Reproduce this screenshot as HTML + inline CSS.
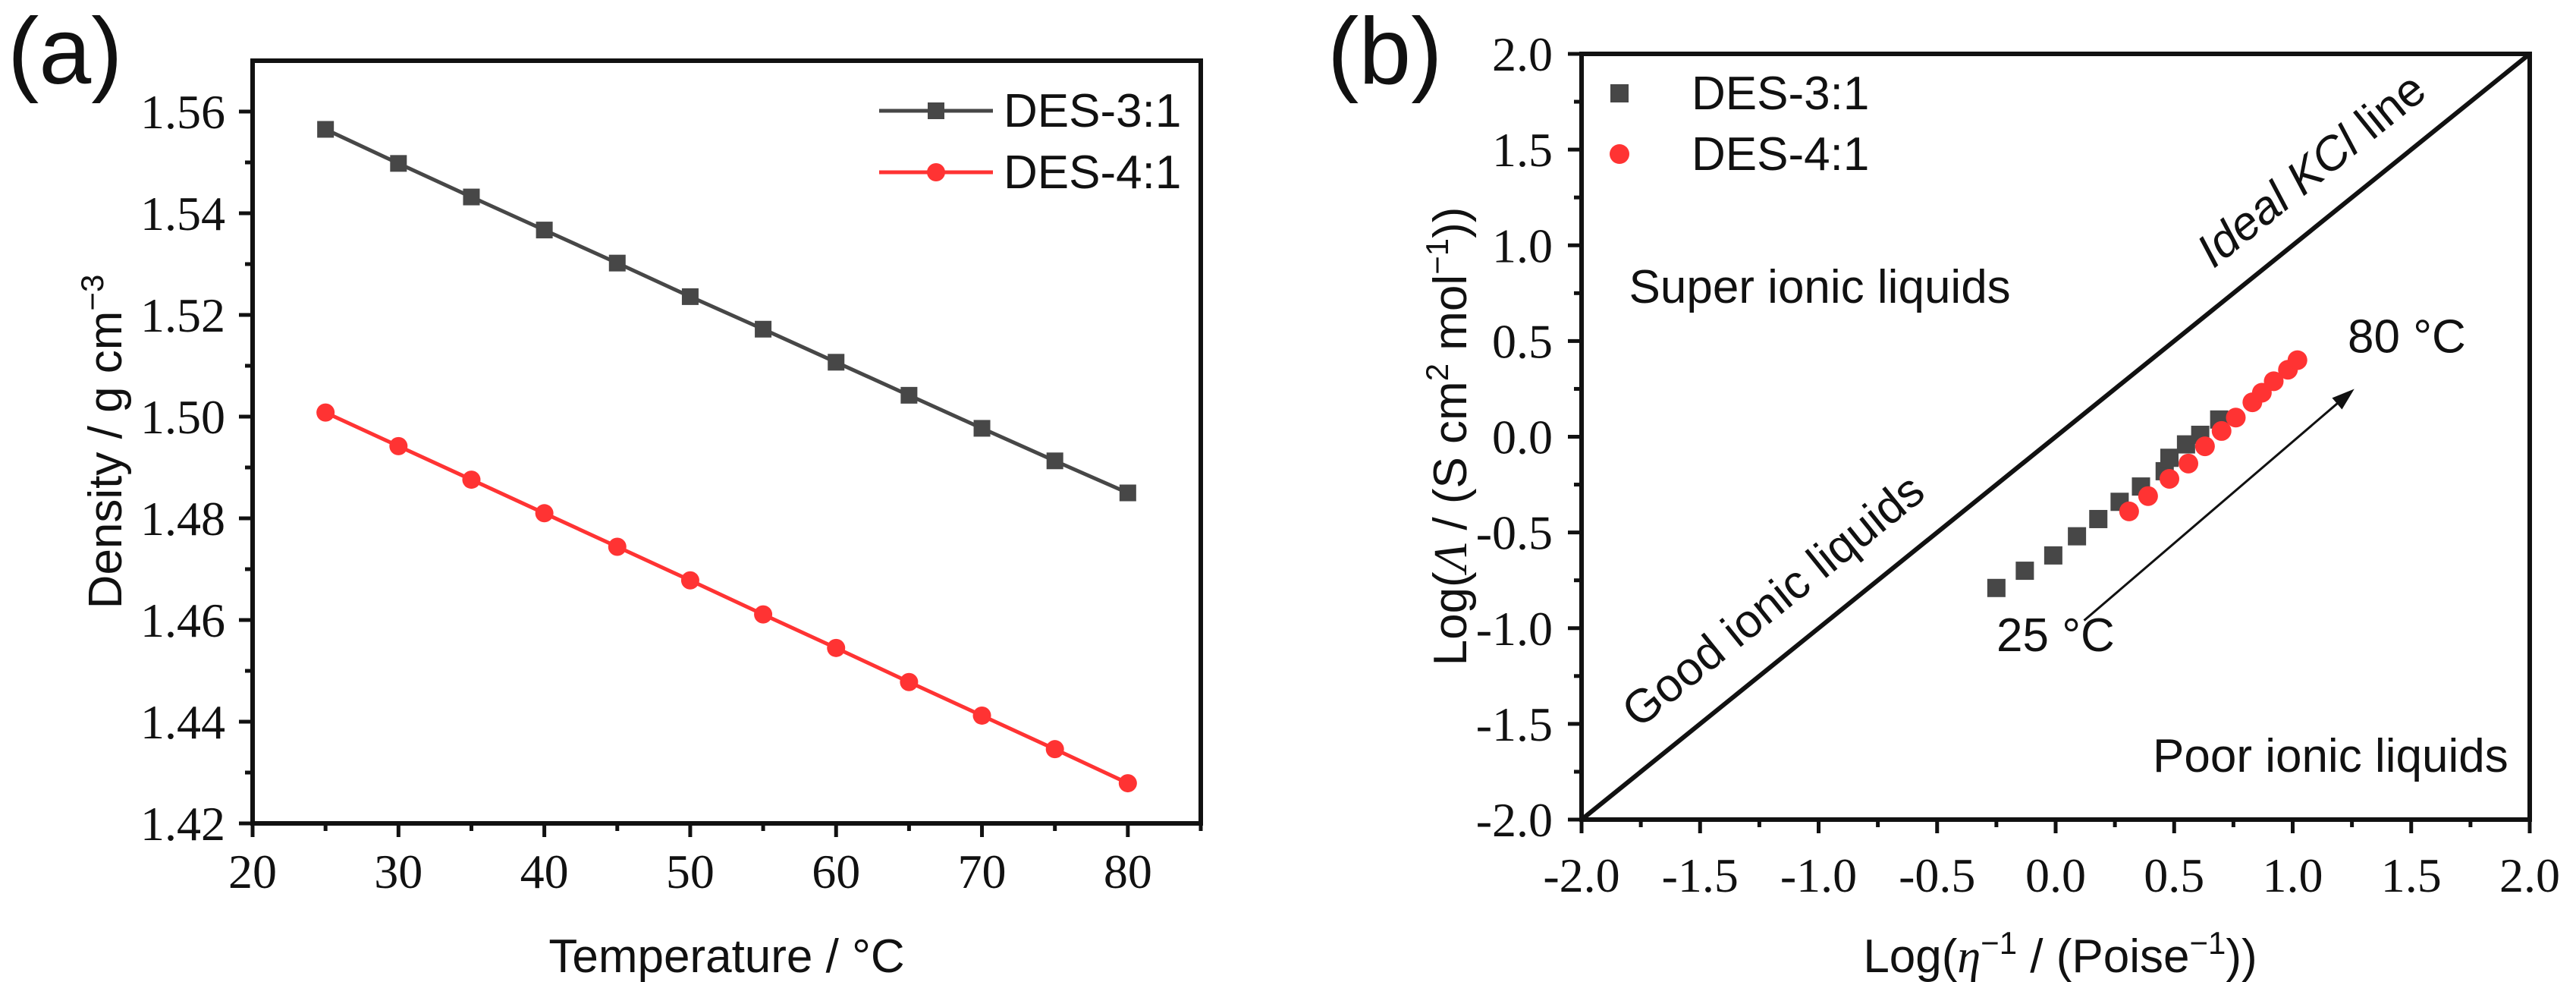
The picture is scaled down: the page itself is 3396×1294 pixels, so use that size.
<!DOCTYPE html>
<html><head><meta charset="utf-8"><style>
html,body{margin:0;padding:0;background:#fff;}
svg{display:block;}
.tick{font-family:"Liberation Serif",serif;font-size:64px;fill:#111;}
.lab{font-family:"Liberation Sans",sans-serif;font-size:62px;fill:#111;}
</style></head><body>
<svg id="fig" width="3396" height="1294" viewBox="0 0 3396 1294" xmlns="http://www.w3.org/2000/svg">
<rect width="3396" height="1294" fill="#fff"/>
<g id="pa"></g>
<g id="pb"></g>
</svg>
<script>
const NS="http://www.w3.org/2000/svg";
// Panel (a) data
const tempsA=[25,30,35,40,45,50,55,60,65,70,75,80];
const des31Density=[1.5565,1.5498,1.5432,1.5367,1.5302,1.5236,1.5172,1.5107,1.5042,1.4977,1.4913,1.4850];
const des41Density=[1.5008,1.4942,1.4876,1.4810,1.4744,1.4678,1.4611,1.4545,1.4478,1.4412,1.4346,1.4279];
const xTicksA=[20,30,40,50,60,70,80];
const yTicksA=["1.42","1.44","1.46","1.48","1.50","1.52","1.54","1.56"];
// Panel (b) data
const des31LogEta=[-0.25,-0.13,-0.01,0.09,0.18,0.27,0.36,0.46,0.48,0.55,0.61,0.69];
const des31LogLambda=[-0.79,-0.70,-0.62,-0.52,-0.43,-0.34,-0.26,-0.18,-0.11,-0.04,0.01,0.09];
const des41LogEta=[0.31,0.39,0.48,0.56,0.63,0.70,0.76,0.83,0.87,0.92,0.98,1.02];
const des41LogLambda=[-0.39,-0.31,-0.22,-0.14,-0.05,0.03,0.10,0.18,0.23,0.29,0.35,0.40];
const ticksB=["-2.0","-1.5","-1.0","-0.5","0.0","0.5","1.0","1.5","2.0"];

function el(parent,tag,attrs,text){const e=document.createElementNS(NS,tag);for(const k in attrs)e.setAttribute(k,attrs[k]);if(text!==undefined)e.textContent=text;parent.appendChild(e);return e;}

// ---------- Panel A ----------
const pa=document.getElementById('pa');
const AL=333,AR=1583,AT=80,AB=1085;
const ax=v=>AL+(v-20)/(85-20)*(AR-AL);
const ay=v=>AB-(v-1.42)/(1.57-1.42)*(AB-AT);
let t=el(pa,'text',{x:10,y:110,class:'lab',style:'font-size:124px'});t.textContent='(a)';


let fr=el(pa,'rect',{x:AL,y:AT,width:AR-AL,height:AB-AT,fill:'none',stroke:'#111','stroke-width':6});


for(let v=20;v<=85;v+=5){const x=ax(v);const major=(v%10===0);el(pa,'line',{x1:x,y1:AB,x2:x,y2:AB+(major?18:10),stroke:'#111','stroke-width':5});}
xTicksA.forEach(v=>{const e=el(pa,'text',{x:ax(v),y:1170,class:'tick','text-anchor':'middle'},String(v));

});
for(let i=0;i<15;i++){const v=1.42+i*0.01;const y=ay(v);const major=(i%2===0);el(pa,'line',{x1:AL,y1:y,x2:AL-(major?18:10),y2:y,stroke:'#111','stroke-width':5});}
yTicksA.forEach(s=>{const e=el(pa,'text',{x:297,y:ay(parseFloat(s))+22,class:'tick','text-anchor':'end'},s);

});
t=el(pa,'text',{x:958,y:1281,class:'lab','text-anchor':'middle'},'Temperature / °C');


t=el(pa,'text',{x:0,y:0,class:'lab','text-anchor':'middle',transform:'translate(160,582) rotate(-90)'});


t.innerHTML='Density / g cm<tspan dy="-24" font-size="42">−3</tspan>';
function seriesA(vals,color,kind,name){
  const g=el(pa,'g',{});
  
  
  el(g,'polyline',{points:tempsA.map((v,i)=>ax(v)+','+ay(vals[i])).join(' '),fill:'none',stroke:color,'stroke-width':5});
  tempsA.forEach((v,i)=>{let m;
    if(kind==='sq'){m=el(g,'rect',{x:ax(v)-11,y:ay(vals[i])-11,width:22,height:22,fill:color});}
    else{m=el(g,'circle',{cx:ax(v),cy:ay(vals[i]),r:12,fill:color});}
    
    });
}
seriesA(des31Density,'#474747','sq','series-des-3-1');
seriesA(des41Density,'#ff3333','ci','series-des-4-1');
// legend A
let lg=el(pa,'g',{});


el(lg,'line',{x1:1159,y1:146,x2:1309,y2:146,stroke:'#474747','stroke-width':5});
el(lg,'rect',{x:1223,y:135,width:22,height:22,fill:'#474747'});
el(lg,'text',{x:1323,y:167,class:'lab'},'DES-3:1');
el(lg,'line',{x1:1159,y1:227,x2:1309,y2:227,stroke:'#ff3333','stroke-width':5});
el(lg,'circle',{cx:1234,cy:227,r:12,fill:'#ff3333'});
el(lg,'text',{x:1323,y:248,class:'lab'},'DES-4:1');

// ---------- Panel B ----------
const pb=document.getElementById('pb');
const BL=2085,BR=3335,BT=71,BB=1080;
const bx=v=>BL+(v+2)/4*(BR-BL);
const by=v=>BB-(v+2)/4*(BB-BT);
t=el(pb,'text',{x:1750,y:110,class:'lab',style:'font-size:124px'},'(b)');


fr=el(pb,'rect',{x:BL,y:BT,width:BR-BL,height:BB-BT,fill:'none',stroke:'#111','stroke-width':6});


for(let i=0;i<=16;i++){const v=-2+i*0.25;const major=(i%2===0);
  el(pb,'line',{x1:bx(v),y1:BB,x2:bx(v),y2:BB+(major?18:10),stroke:'#111','stroke-width':5});
  el(pb,'line',{x1:BL,y1:by(v),x2:BL-(major?18:10),y2:by(v),stroke:'#111','stroke-width':5});}
ticksB.forEach(s=>{const v=parseFloat(s);
  let e=el(pb,'text',{x:bx(v),y:1175,class:'tick','text-anchor':'middle'},s);
  
  
  e=el(pb,'text',{x:2047,y:by(v)+22,class:'tick','text-anchor':'end'},s);
  
  });
let kcl=el(pb,'line',{x1:bx(-2),y1:by(-2),x2:bx(2),y2:by(2),stroke:'#111','stroke-width':6});


const ang=-Math.atan((BB-BT)/(BR-BL))*180/Math.PI;
t=el(pb,'text',{x:0,y:0,class:'lab','text-anchor':'middle',transform:`translate(${bx(-1.15)},${by(-0.92)}) rotate(${ang})`},'Good ionic liquids');


t=el(pb,'text',{x:0,y:0,class:'lab','text-anchor':'middle',transform:`translate(${bx(1.12)},${by(1.33)}) rotate(${ang})`});
t.innerHTML='<tspan font-style="italic">Ideal KCl</tspan> line';


t=el(pb,'text',{x:bx(-1.8),y:by(0.70),class:'lab'},'Super ionic liquids');


t=el(pb,'text',{x:2838,y:by(-1.75),class:'lab'},'Poor ionic liquids');


t=el(pb,'text',{x:2632,y:by(-1.12),class:'lab'},'25 °C');


t=el(pb,'text',{x:3095,y:by(0.44),class:'lab'},'80 °C');


// arrow
const x1=bx(0.12),y1=by(-0.96),x2=bx(1.26),y2=by(0.25);
const a=Math.atan2(y2-y1,x2-x1);
let arr=el(pb,'g',{});


el(arr,'line',{x1:x1,y1:y1,x2:x2-20*Math.cos(a),y2:y2-20*Math.sin(a),stroke:'#111','stroke-width':3});
const hp=[[x2,y2],[x2-30*Math.cos(a)+10*Math.sin(a),y2-30*Math.sin(a)-10*Math.cos(a)],[x2-30*Math.cos(a)-10*Math.sin(a),y2-30*Math.sin(a)+10*Math.cos(a)]];
el(arr,'polygon',{points:hp.map(p=>p.join(',')).join(' '),fill:'#111'});
// series
let g=el(pb,'g',{});


des31LogEta.forEach((v,i)=>{const m=el(g,'rect',{x:bx(v)-12,y:by(des31LogLambda[i])-12,width:24,height:24,fill:'#474747'});

});
g=el(pb,'g',{});


des41LogEta.forEach((v,i)=>{const m=el(g,'circle',{cx:bx(v),cy:by(des41LogLambda[i]),r:13,fill:'#ff3333'});

});
// legend B
lg=el(pb,'g',{});


el(lg,'rect',{x:2123,y:111,width:24,height:24,fill:'#474747'});
el(lg,'text',{x:2230,y:144,class:'lab'},'DES-3:1');
el(lg,'circle',{cx:2135,cy:203,r:13,fill:'#ff3333'});
el(lg,'text',{x:2230,y:224,class:'lab'},'DES-4:1');
// axis titles B
t=el(pb,'text',{x:2716,y:1281,class:'lab','text-anchor':'middle'});
t.innerHTML='Log(<tspan font-family="Liberation Serif" font-style="italic">η</tspan><tspan dy="-24" font-size="42">−1</tspan><tspan dy="24"> / (Poise</tspan><tspan dy="-24" font-size="42">−1</tspan><tspan dy="24">))</tspan>';


t=el(pb,'text',{x:0,y:0,class:'lab','text-anchor':'middle',transform:'translate(1933,575) rotate(-90)'});
t.innerHTML='Log(<tspan font-family="Liberation Serif" font-style="italic">Λ</tspan> / (S cm<tspan dy="-24" font-size="42">2</tspan><tspan dy="24"> mol</tspan><tspan dy="-24" font-size="42">−1</tspan><tspan dy="24">))</tspan>';


</script>
</body></html>
